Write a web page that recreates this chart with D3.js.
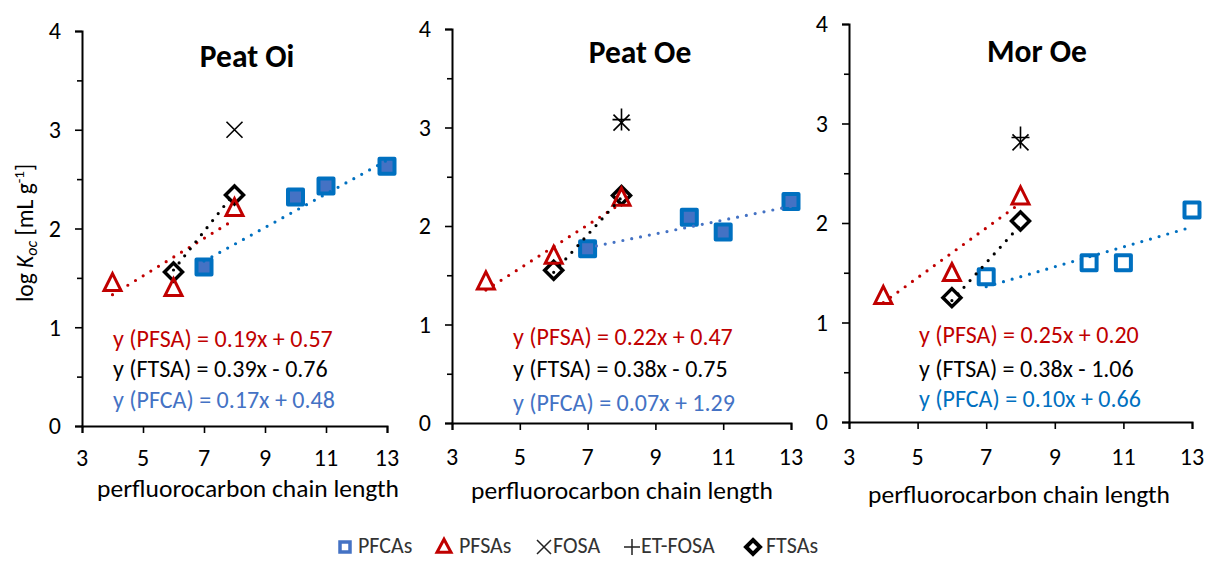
<!DOCTYPE html>
<html>
<head>
<meta charset="utf-8">
<script src="https://cdn.jsdelivr.net/npm/d3@7"></script>
<style>
  html, body { margin: 0; padding: 0; background: #fff; }
  svg { display: block; }
  text { font-family: Carlito, Calibri, Lato, sans-serif; }
</style>
</head>
<body>
<svg id="chart" width="1206" height="562"></svg>
<script>
// ---- data ----
const panelTitles = ["Peat Oi", "Peat Oe", "Mor Oe"];
const xTicks = [3, 5, 7, 9, 11, 13];
const yTicks = [0, 1, 2, 3, 4];
const yMinorTicks = [0.5, 1.5, 2.5, 3.5];

// chain lengths of each compound class
const pfcaX = [7, 10, 11, 13];
const pfsaX = [4, 6, 8];
const ftsaX = [6, 8];
const fosaX = [8];

// log Koc per panel
const pfcaY = [[1.61, 2.32, 2.43, 2.63], [1.77, 2.09, 1.94, 2.25], [1.46, 1.60, 1.60, 2.13]];
const pfsaY = [[1.44, 1.39, 2.20], [1.43, 1.69, 2.28], [1.26, 1.49, 2.26]];
const ftsaY = [[1.56, 2.34], [1.55, 2.31], [1.25, 2.02]];
const fosaY = [[3.00], [3.05], [2.81]];
const etfosaY = [[], [3.08], [2.86]];

// linear fits: [slope, intercept]
const pfsaFit = [[0.19, 0.57], [0.22, 0.47], [0.25, 0.20]];
const ftsaFit = [[0.39, -0.76], [0.38, -0.75], [0.38, -1.06]];
const pfcaFit = [[0.17, 0.48], [0.07, 1.29], [0.10, 0.66]];

const legendLabels = ["PFCAs", "PFSAs", "FOSA", "ET-FOSA", "FTSAs"];

// ---- layout ----
const panels = [
  { x0: 82, x1: 387, yTop: 31, yBot: 426, titleX: 247, titleY: 67, tickY: 466, axTitleY: 497, axTitleX: 248,
    eqX: 113, eqY: [347, 377, 408], pfcaFill: "#4472C4", pfcaLine: "#0070C0", pfcaText: "#4472C4" },
  { x0: 452, x1: 791, yTop: 29, yBot: 423, titleX: 640, titleY: 63, tickY: 465, axTitleY: 499, axTitleX: 622,
    eqX: 513, eqY: [345, 377, 411], pfcaFill: "#4472C4", pfcaLine: "#4472C4", pfcaText: "#4472C4" },
  { x0: 849, x1: 1192, yTop: 24, yBot: 422, titleX: 1037, titleY: 62, tickY: 465, axTitleY: 503, axTitleX: 1019,
    eqX: 919, eqY: [343, 377, 407], pfcaFill: "#ffffff", pfcaLine: "#0070C0", pfcaText: "#0070C0" }
];

const RED = "#C00000";
const svg = d3.select("#chart");

// marker path builders (centred on 0,0)
const sq = s => `M${-s},${-s}H${s}V${s}H${-s}Z`;
const tri = (w, h) => `M0,${-h * 0.6}L${w},${h * 0.4}L${-w},${h * 0.4}Z`;
const dia = (w, h) => `M0,${-h}L${w},0L0,${h}L${-w},0Z`;
const xMark = s => `M${-s},${-s}L${s},${s}M${s},${-s}L${-s},${s}`;
const plus = (w, h) => `M${-w},0H${w}M0,${-h}V${h}`;

panels.forEach((p, i) => {
  const x = d3.scaleLinear().domain([3, 13]).range([p.x0, p.x1]);
  const y = d3.scaleLinear().domain([0, 4]).range([p.yBot, p.yTop]);
  const g = svg.append("g");

  // axes
  const yAxis = d3.axisLeft(y).tickValues(yTicks).tickSize(7).tickPadding(14).tickFormat(d3.format("d"));
  const gy = g.append("g").attr("transform", `translate(${p.x0},0)`).call(yAxis);
  gy.selectAll("text").attr("font-size", 24).attr("fill", "#000").attr("dy", "0.33em");
  g.append("g").attr("transform", `translate(${p.x0},0)`)
    .call(d3.axisLeft(y).tickValues(yMinorTicks).tickSize(5).tickFormat(""))
    .call(a => a.select(".domain").remove());

  const xAxis = d3.axisBottom(x).tickValues(xTicks).tickSize(7).tickFormat(d3.format("d"));
  const gx = g.append("g").attr("transform", `translate(0,${p.yBot})`).call(xAxis);
  gx.selectAll("text").remove();
  g.append("g").selectAll("text").data(xTicks).join("text")
    .attr("x", d => x(d)).attr("y", p.tickY)
    .attr("text-anchor", "middle").attr("font-size", 24).text(d => d);

  g.selectAll(".domain").attr("stroke", "#000").attr("stroke-width", 2);
  g.selectAll(".tick line").attr("stroke", "#000").attr("stroke-width", 1.6);

  // axis title and panel title
  g.append("text").attr("x", p.axTitleX).attr("y", p.axTitleY).attr("text-anchor", "middle")
    .attr("font-size", 25.5).text("perfluorocarbon chain length");
  g.append("text").attr("x", p.titleX).attr("y", p.titleY).attr("text-anchor", "middle")
    .attr("font-size", 31.5).attr("font-weight", "bold").text(panelTitles[i]);

  // markers
  const mk = g.append("g");
  mk.selectAll(".pfca").data(pfcaX.map((v, k) => [v, pfcaY[i][k]])).join("path")
    .attr("transform", d => `translate(${x(d[0])},${y(d[1])})`)
    .attr("d", sq(7.5)).attr("fill", p.pfcaFill).attr("stroke", "#0070C0")
    .attr("stroke-width", 4).attr("stroke-linejoin", "round");
  mk.selectAll(".ftsa").data(ftsaX.map((v, k) => [v, ftsaY[i][k]])).join("path")
    .attr("transform", d => `translate(${x(d[0])},${y(d[1])})`)
    .attr("d", dia(9, 9)).attr("fill", "none").attr("stroke", "#000")
    .attr("stroke-width", 3.5).attr("stroke-linejoin", "miter");
  mk.selectAll(".pfsa").data(pfsaX.map((v, k) => [v, pfsaY[i][k]])).join("path")
    .attr("transform", d => `translate(${x(d[0])},${y(d[1])})`)
    .attr("d", tri(8.5, 17)).attr("fill", "none").attr("stroke", RED)
    .attr("stroke-width", 3).attr("stroke-linejoin", "miter");
  mk.selectAll(".fosa").data(fosaX.map((v, k) => [v, fosaY[i][k]])).join("path")
    .attr("transform", d => `translate(${x(d[0])},${y(d[1])})`)
    .attr("d", xMark(8)).attr("fill", "none").attr("stroke", "#000").attr("stroke-width", 1.6);
  mk.selectAll(".etfosa").data(etfosaY[i].map(v => [fosaX[0], v])).join("path")
    .attr("transform", d => `translate(${x(d[0])},${y(d[1])})`)
    .attr("d", plus(9, 11)).attr("fill", "none").attr("stroke", "#000").attr("stroke-width", 1.6);

  // dotted fit lines
  const line = d3.line().x(d => x(d[0])).y(d => y(d[1]));
  const fits = [
    { xs: pfsaX, f: pfsaFit[i], c: RED },
    { xs: ftsaX, f: ftsaFit[i], c: "#000" },
    { xs: pfcaX, f: pfcaFit[i], c: p.pfcaLine }
  ];
  fits.forEach(ft => {
    const lo = d3.min(ft.xs), hi = d3.max(ft.xs);
    g.append("path").datum([[lo, ft.f[0] * lo + ft.f[1]], [hi, ft.f[0] * hi + ft.f[1]]])
      .attr("d", line).attr("fill", "none").attr("stroke", ft.c)
      .attr("stroke-width", 3.2).attr("stroke-linecap", "round").attr("stroke-dasharray", "0,9");
  });

  // equations
  const fmt = d3.format(".2f");
  const eq = (name, f) => `y (${name}) = ${fmt(f[0])}x ${f[1] < 0 ? "-" : "+"} ${fmt(Math.abs(f[1]))}`;
  const eqs = [
    { t: eq("PFSA", pfsaFit[i]), c: RED },
    { t: eq("FTSA", ftsaFit[i]), c: "#000" },
    { t: eq("PFCA", pfcaFit[i]), c: p.pfcaText }
  ];
  g.append("g").selectAll("text").data(eqs).join("text")
    .attr("x", p.eqX).attr("y", (d, k) => p.eqY[k]).attr("font-size", 24)
    .attr("fill", d => d.c).text(d => d.t);
});

// y-axis label
const yl = svg.append("text").attr("transform", "translate(33,233) rotate(-90)")
  .attr("text-anchor", "middle").attr("font-size", 23.5);
yl.append("tspan").text("log ");
yl.append("tspan").attr("font-style", "italic").text("K");
yl.append("tspan").attr("font-style", "italic").attr("font-size", 16).attr("dy", 4).text("oc");
yl.append("tspan").attr("dy", -4).text(" [mL g");
yl.append("tspan").attr("font-size", 15).attr("dy", -9).text("-1");
yl.append("tspan").attr("dy", 9).text("]");

// legend
const lg = svg.append("g").attr("transform", "translate(0,547)");
const legendX = [345, 444, 544, 632, 753];
const legendTextX = [358, 459, 553, 641, 766];
const legendMarks = [
  { d: sq(5), stroke: "#4472C4", fill: "#fff", w: 3.5 },
  { d: tri(7, 13), stroke: RED, fill: "#fff", w: 3 },
  { d: xMark(7), stroke: "#222", fill: "none", w: 1.5 },
  { d: plus(8, 8), stroke: "#222", fill: "none", w: 1.5 },
  { d: dia(7, 7), stroke: "#000", fill: "#fff", w: 4 }
];
lg.selectAll("path").data(legendMarks).join("path")
  .attr("transform", (d, k) => `translate(${legendX[k]},0)`)
  .attr("d", d => d.d).attr("stroke", d => d.stroke).attr("fill", d => d.fill).attr("stroke-width", d => d.w);
lg.selectAll("text").data(legendLabels).join("text")
  .attr("x", (d, k) => legendTextX[k]).attr("y", 6).attr("font-size", 22).attr("fill", "#333")
  .text(d => d);
</script>
</body>
</html>
